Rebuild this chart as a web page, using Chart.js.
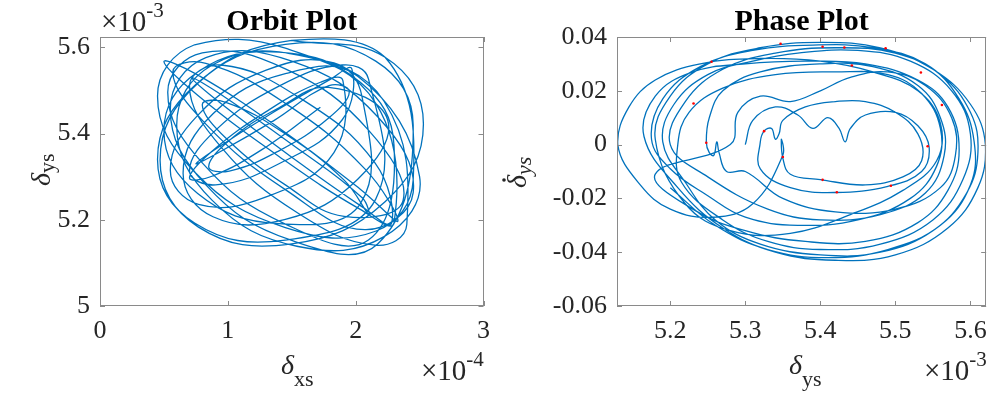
<!DOCTYPE html>
<html>
<head>
<meta charset="utf-8">
<script src="https://cdn.jsdelivr.net/npm/chart.js@4.4.1/dist/chart.umd.min.js"></script>
<style>
html, body { margin: 0; padding: 0; background: #fff; }
#wrap { position: relative; width: 997px; height: 400px; }
#wrap canvas { position: absolute; top: 0; }
#orbitChart { left: 0; }
#phaseChart { left: 500px; }
</style>
</head>
<body>
<div id="wrap">
  <canvas id="orbitChart" width="500" height="400"></canvas>
  <canvas id="phaseChart" width="497" height="400"></canvas>
</div>
<script>
// orbit plot: delta_xs (x 1e-4) vs delta_ys (x 1e-3)
const orbitX = [
  1.50, 2.23,
  2.53, 2.23, 1.50, 0.77, 0.47, 0.77, 1.50, 2.23,
  2.45, 2.16, 1.45, 0.74, 0.45, 0.74, 1.45, 2.16,
  2.30, 2.036, 1.40, 0.764, 0.50, 0.764, 1.40, 2.036,
  2.33, 2.072, 1.45, 0.828, 0.57, 0.828, 1.45, 2.072,
  2.45, 2.172, 1.50, 0.828, 0.55, 0.828, 1.50, 2.172,
  2.45, 2.157, 1.45, 0.743, 0.45, 0.743, 1.45, 2.157,
  2.10, 1.895, 1.40, 0.905, 0.70, 0.905, 1.40, 1.895,
  1.97, 1.791, 1.36, 0.929, 0.75, 0.929, 1.36, 1.791,
  1.95, 1.789, 1.40, 1.011, 0.85, 1.011, 1.40, 1.789,
  2.25, 2.016, 1.45, 0.884, 0.65, 0.884, 1.45, 2.016,
  2.50, 2.222, 1.55, 0.878, 0.60, 0.878, 1.55, 2.222,
  2.40, 2.151, 1.55, 0.949, 0.70, 0.949, 1.55, 2.151,
  2.28, 2.051, 1.50, 0.949, 0.72, 0.949, 1.50, 2.051,
  2.10, 1.91, 1.45, 0.99, 0.80, 0.99, 1.45, 1.91,
  2.37, 2.10, 1.45, 0.80, 0.53, 0.80, 1.45, 2.10,
  2.30, 2.036, 1.40, 0.764, 0.50, 0.764, 1.40, 2.036,
  2.05, 1.83, 1.30, 0.77, 0.55, 0.77, 1.30, 1.83,
  1.90, 1.724, 1.30, 0.876, 0.70, 0.876, 1.30, 1.724
];
const orbitY = [
  5.616, 5.577,
  5.422, 5.242, 5.144, 5.183, 5.338, 5.518, 5.616, 5.577,
  5.293, 5.174, 5.182, 5.311, 5.487, 5.606, 5.598, 5.469,
  5.193, 5.224, 5.347, 5.489, 5.567, 5.536, 5.413, 5.271,
  5.197, 5.318, 5.47, 5.563, 5.543, 5.422, 5.27, 5.177,
  5.263, 5.439, 5.568, 5.576, 5.457, 5.281, 5.152, 5.144,
  5.42, 5.568, 5.607, 5.512, 5.34, 5.192, 5.153, 5.248,
  5.527, 5.559, 5.51, 5.408, 5.313, 5.281, 5.33, 5.432,
  5.55, 5.524, 5.45, 5.369, 5.33, 5.356, 5.43, 5.511,
  5.497, 5.436, 5.36, 5.313, 5.323, 5.384, 5.46, 5.507,
  5.432, 5.294, 5.201, 5.207, 5.308, 5.446, 5.539, 5.533,
  5.30, 5.161, 5.138, 5.245, 5.42, 5.559, 5.582, 5.475,
  5.189, 5.141, 5.215, 5.368, 5.511, 5.559, 5.485, 5.332,
  5.191, 5.23, 5.345, 5.469, 5.529, 5.49, 5.375, 5.251,
  5.213, 5.292, 5.399, 5.472, 5.467, 5.388, 5.281, 5.208,
  5.244, 5.408, 5.55, 5.587, 5.496, 5.332, 5.19, 5.153,
  5.373, 5.519, 5.589, 5.543, 5.407, 5.261, 5.191, 5.237,
  5.485, 5.564, 5.547, 5.444, 5.315, 5.236, 5.253, 5.356,
  5.523, 5.519, 5.451, 5.359, 5.297, 5.301, 5.369, 5.461
];

// phase plot: delta_ys (x 1e-3) vs its rate
const phaseX = [
  5.30, 5.31, 5.34, 5.37, 5.39, 5.41, 5.425, 5.433, 5.44, 5.46, 5.50, 5.53, 5.545, 5.535, 5.49, 5.42, 5.36, 5.32,
  5.32, 5.325, 5.335, 5.34, 5.345, 5.35, 5.38, 5.42, 5.46, 5.50, 5.53, 5.535, 5.51, 5.46, 5.40, 5.36, 5.35, 5.348, 5.35,
  5.31, 5.257, 5.20, 5.16, 5.13, 5.145, 5.18, 5.24, 5.32, 5.40, 5.47, 5.53, 5.56, 5.555, 5.51, 5.44, 5.36, 5.28, 5.22,
  5.18, 5.20, 5.25, 5.32, 5.40, 5.48, 5.55, 5.60, 5.62, 5.61, 5.57, 5.50, 5.42, 5.34, 5.27, 5.21,
  5.165, 5.18, 5.23, 5.30, 5.38, 5.46, 5.53, 5.57, 5.585, 5.57, 5.53, 5.46, 5.38, 5.30, 5.23, 5.18,
  5.28, 5.29, 5.32, 5.36, 5.40, 5.44, 5.49, 5.54, 5.575, 5.58, 5.56, 5.50, 5.42, 5.35, 5.30,
  5.275, 5.265, 5.262, 5.258, 5.252, 5.248, 5.252, 5.27, 5.32, 5.40, 5.47, 5.53, 5.56, 5.565, 5.54, 5.48, 5.40, 5.33, 5.25,
  5.20, 5.22, 5.27, 5.34, 5.42, 5.50, 5.56, 5.60, 5.61, 5.595, 5.55, 5.48, 5.40, 5.32, 5.26, 5.22,
  5.19, 5.205, 5.25, 5.31, 5.37, 5.45, 5.52, 5.575, 5.60, 5.59, 5.55, 5.48, 5.40, 5.33, 5.27, 5.215,
  5.21, 5.225, 5.27, 5.34, 5.42, 5.49, 5.535, 5.56, 5.555, 5.52, 5.45, 5.37, 5.30, 5.25, 5.20,
  5.175, 5.19, 5.24, 5.31, 5.39, 5.47, 5.54, 5.585, 5.605, 5.60, 5.56, 5.49, 5.41, 5.33, 5.26, 5.20
];
const phaseV = [
  0.000, 0.009, 0.014, 0.011, 0.006, 0.010, 0.006, 0.001, 0.006, 0.011, 0.012, 0.007, -0.001, -0.010, -0.0155, -0.0178, -0.016, -0.009,
  0.001, 0.005, 0.006, 0.002, 0.004, 0.009, 0.014, 0.016, 0.016, 0.012, 0.004, -0.006, -0.012, -0.015, -0.013, -0.011, -0.005, 0.002, -0.004,
  -0.022, -0.027, -0.024, -0.015, 0.000, 0.014, 0.024, 0.030, 0.032, 0.031, 0.027, 0.020, 0.008, -0.006, -0.017, -0.026, -0.033, -0.032, -0.022,
  0.002, 0.018, 0.030, 0.036, 0.038, 0.036, 0.028, 0.015, 0.000, -0.016, -0.031, -0.041, -0.043, -0.040, -0.031, -0.016,
  0.003, 0.018, 0.027, 0.030, 0.031, 0.030, 0.024, 0.014, -0.002, -0.017, -0.029, -0.036, -0.036, -0.032, -0.024, -0.011,
  0.000, 0.012, 0.018, 0.016, 0.020, 0.025, 0.027, 0.022, 0.010, -0.004, -0.016, -0.024, -0.025, -0.020, -0.010,
  -0.010, -0.003, 0.001, -0.004, -0.003, 0.001, 0.010, 0.020, 0.027, 0.030, 0.029, 0.022, 0.010, -0.004, -0.018, -0.026, -0.028, -0.024, -0.012,
  0.000, 0.016, 0.028, 0.034, 0.036, 0.034, 0.026, 0.012, -0.003, -0.018, -0.032, -0.040, -0.041, -0.037, -0.028, -0.014,
  0.001, 0.015, 0.026, 0.031, 0.034, 0.035, 0.031, 0.020, 0.004, -0.013, -0.028, -0.037, -0.039, -0.036, -0.028, -0.014,
  0.000, 0.012, 0.021, 0.026, 0.027, 0.026, 0.019, 0.006, -0.008, -0.020, -0.028, -0.030, -0.027, -0.019, -0.009,
  0.002, 0.017, 0.029, 0.035, 0.037, 0.036, 0.030, 0.017, 0.001, -0.015, -0.030, -0.039, -0.042, -0.039, -0.030, -0.016
];

// red sample markers on the phase plot
const markX = [5.347, 5.403, 5.432, 5.487, 5.255, 5.442, 5.534, 5.231, 5.562, 5.325, 5.248, 5.543, 5.350, 5.403, 5.494, 5.422];
const markV = [0.0375, 0.0364, 0.0361, 0.0358, 0.0308, 0.0294, 0.0268, 0.0153, 0.0147, 0.0050, 0.0007, -0.0006, -0.0046, -0.0131, -0.0153, -0.0177];

const orbitXTicks = [0, 1, 2, 3];
const orbitYTicks = [5, 5.2, 5.4, 5.6];
const phaseXTicks = [5.2, 5.3, 5.4, 5.5, 5.6];
const phaseYTicks = [-0.06, -0.04, -0.02, 0, 0.02, 0.04];

const SERIF = '"Liberation Serif", "Times New Roman", serif';
const TEXT = "#262626";
const LINE = "#0072BD";

Chart.defaults.font.family = SERIF;

function toPoints(xs, ys) {
    return xs.map(function (x, i) { return { x: x, y: ys[i] }; });
}

function axis(min, max, tickValues, size, horizontal) {
    return {
        type: "linear",
        min: min,
        max: max,
        afterBuildTicks: function (s) { s.ticks = tickValues.map(function (v) { return { value: v }; }); },
        afterFit: function (s) { if (horizontal) { s.height = size; } else { s.width = size; } },
        grid: { display: true, drawOnChartArea: false, drawTicks: false },
        border: { display: false },
        ticks: {
            font: { size: 26 },
            color: TEXT,
            padding: 10,
            maxRotation: 0,
            autoSkip: false,
            callback: function (v) { return String(v); }
        }
    };
}

// draw text pieces one after another along a (possibly rotated) baseline
function richText(ctx, x, y, angle, parts) {
    ctx.save();
    ctx.translate(x, y);
    ctx.rotate(angle);
    ctx.textAlign = "left";
    ctx.textBaseline = "alphabetic";
    ctx.fillStyle = TEXT;
    let cx = 0;
    parts.forEach(function (p) {
        ctx.font = p.font;
        ctx.fillText(p.text, cx + (p.dx || 0), p.dy || 0);
        if (p.dot) {
            const w = ctx.measureText(p.text).width;
            ctx.beginPath();
            ctx.arc(cx + w * 0.62, p.dot, 1.8, 0, Math.PI * 2);
            ctx.fill();
        }
        cx += ctx.measureText(p.text).width + (p.dx || 0);
    });
    ctx.restore();
}

function power(ctx, x, y, exp) {
    richText(ctx, x, y, 0, [
        { text: "\u00d710", font: "29px " + SERIF },
        { text: exp, font: "21px " + SERIF, dy: -14 }
    ]);
}

const framePlugin = {
    id: "frame",
    afterDraw: function (chart, args, opts) {
        const ctx = chart.ctx;
        const a = chart.chartArea;
        const xs = chart.scales.x;
        const ys = chart.scales.y;
        ctx.save();
        ctx.strokeStyle = "#8a8a8a";
        ctx.lineWidth = 1;
        ctx.strokeRect(Math.round(a.left) + 0.5, Math.round(a.top) + 0.5,
            Math.round(a.right - a.left) - 1, Math.round(a.bottom - a.top) - 1);
        ctx.beginPath();
        xs.ticks.forEach(function (t) {
            const px = Math.round(xs.getPixelForValue(t.value)) + 0.5;
            ctx.moveTo(px, a.bottom); ctx.lineTo(px, a.bottom - 5);
            ctx.moveTo(px, a.top); ctx.lineTo(px, a.top + 5);
        });
        ys.ticks.forEach(function (t) {
            const py = Math.round(ys.getPixelForValue(t.value)) + 0.5;
            ctx.moveTo(a.left, py); ctx.lineTo(a.left + 5, py);
            ctx.moveTo(a.right, py); ctx.lineTo(a.right - 5, py);
        });
        ctx.stroke();
        ctx.restore();
        opts.labels(ctx, a);
    }
};

document.addEventListener("DOMContentLoaded", function () {
    new Chart(document.getElementById("orbitChart"), {
        type: "scatter",
        data: {
            datasets: [{
                data: toPoints(orbitX, orbitY),
                showLine: true,
                borderColor: LINE,
                borderWidth: 1.3,
                pointRadius: 0,
                tension: 0.42
            }]
        },
        options: {
            responsive: false,
            animation: false,
            layout: { padding: { top: 37, right: 13, left: 0, bottom: 0 } },
            plugins: {
                legend: { display: false },
                tooltip: { enabled: false },
                frame: {
                    labels: function (ctx, a) {
                        ctx.save();
                        ctx.fillStyle = "#000";
                        ctx.font = "bold 30px " + SERIF;
                        ctx.textAlign = "center";
                        ctx.fillText("Orbit Plot", (a.left + a.right) / 2, 30);
                        ctx.restore();
                        power(ctx, 101, 31, "-3");
                        power(ctx, 421, 380, "-4");
                        richText(ctx, 281, 374, 0, [
                            { text: "\u03b4", font: "italic 28px " + SERIF },
                            { text: "xs", font: "22px " + SERIF, dy: 12 }
                        ]);
                        richText(ctx, 50, 186, -Math.PI / 2, [
                            { text: "\u03b4", font: "italic 28px " + SERIF },
                            { text: "ys", font: "22px " + SERIF, dy: 4 }
                        ]);
                    }
                }
            },
            scales: {
                x: axis(0, 3, orbitXTicks, 94, true),
                y: axis(5, 5.624, orbitYTicks, 100, false)
            }
        },
        plugins: [framePlugin]
    });

    new Chart(document.getElementById("phaseChart"), {
        type: "scatter",
        data: {
            datasets: [{
                data: toPoints(markX, markV),
                pointRadius: 1.3,
                pointBorderWidth: 0,
                pointBackgroundColor: "#ff0000"
            }, {
                data: toPoints(phaseX, phaseV),
                showLine: true,
                borderColor: LINE,
                borderWidth: 1.3,
                pointRadius: 0,
                tension: 0.4
            }]
        },
        options: {
            responsive: false,
            animation: false,
            layout: { padding: { top: 37, right: 8, left: 0, bottom: 0 } },
            plugins: {
                legend: { display: false },
                tooltip: { enabled: false },
                frame: {
                    labels: function (ctx, a) {
                        ctx.save();
                        ctx.fillStyle = "#000";
                        ctx.font = "bold 30px " + SERIF;
                        ctx.textAlign = "center";
                        ctx.fillText("Phase Plot", (a.left + a.right) / 2, 30);
                        ctx.restore();
                        power(ctx, 424, 380, "-3");
                        richText(ctx, 289, 374, 0, [
                            { text: "\u03b4", font: "italic 28px " + SERIF },
                            { text: "ys", font: "22px " + SERIF, dy: 12 }
                        ]);
                        richText(ctx, 26, 188, -Math.PI / 2, [
                            { text: "\u03b4", font: "italic 28px " + SERIF, dot: -22 },
                            { text: "ys", font: "italic 22px " + SERIF, dy: 5 }
                        ]);
                    }
                }
            },
            scales: {
                x: axis(5.129, 5.621, phaseXTicks, 94, true),
                y: axis(-0.06, 0.04, phaseYTicks, 117, false)
            }
        },
        plugins: [framePlugin]
    });
});
</script>
</body>
</html>
